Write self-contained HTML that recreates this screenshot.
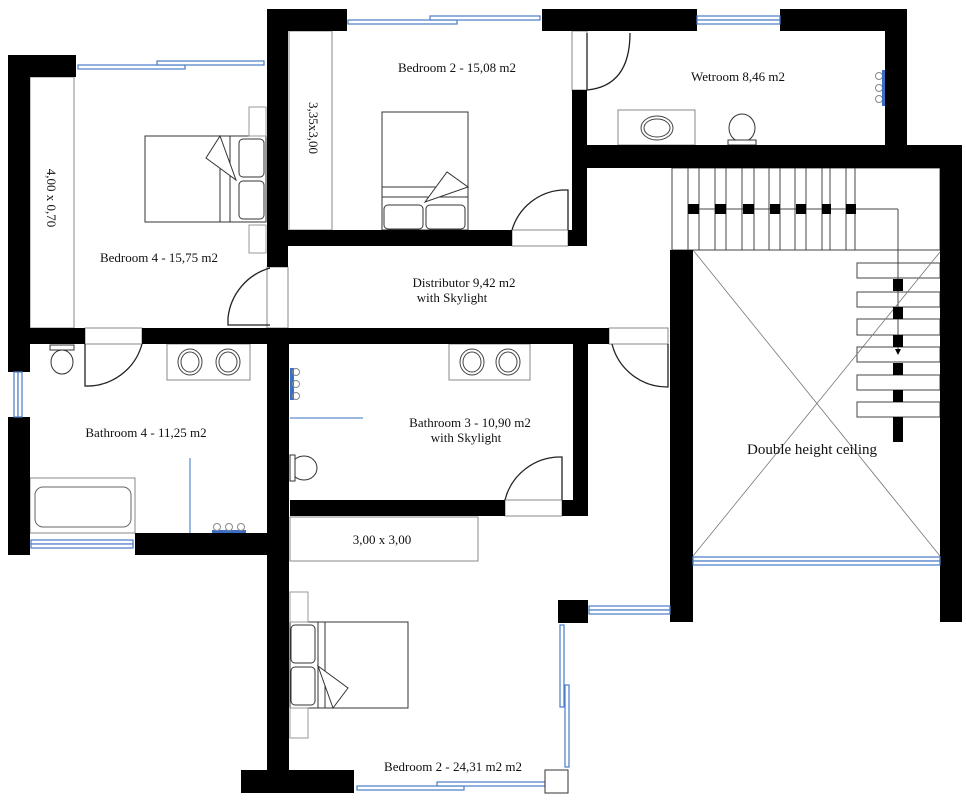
<!DOCTYPE html>
<html><head><meta charset="utf-8"><style>
html,body{margin:0;padding:0;background:#fff;}
svg{display:block;}
text{font-family:"Liberation Serif",serif;font-size:13px;fill:#111;}
</style></head><body>
<svg width="966" height="800" viewBox="0 0 966 800" xmlns="http://www.w3.org/2000/svg">
<g fill="none" stroke="#555" stroke-width="1">
  <rect x="30" y="77" width="44" height="251" stroke="#888"/>
  <rect x="289" y="31" width="43" height="199" stroke="#888"/>
  <rect x="290" y="517" width="188" height="44" stroke="#888"/>
  <rect x="145" y="136" width="121" height="86" stroke="#333"/>
  <rect x="239" y="139" width="25" height="38" rx="4" stroke="#333"/>
  <rect x="239" y="181" width="25" height="38" rx="4" stroke="#333"/>
  <line x1="220" y1="136" x2="220" y2="222" stroke="#333"/>
  <line x1="230" y1="136" x2="230" y2="222" stroke="#333"/>
  <path d="M220,136 L206,158 L236,180 Z" stroke="#333" fill="#fff"/>
  <rect x="249" y="107" width="17" height="29" stroke="#999"/>
  <rect x="249" y="225" width="17" height="28" stroke="#999"/>
  <rect x="382" y="112" width="86" height="118" stroke="#333"/>
  <rect x="384" y="205" width="39" height="24" rx="4" stroke="#333"/>
  <rect x="426" y="205" width="39" height="24" rx="4" stroke="#333"/>
  <line x1="382" y1="187" x2="468" y2="187" stroke="#333"/>
  <line x1="382" y1="197" x2="468" y2="197" stroke="#333"/>
  <path d="M425,202 L447,172 L468,187 Z" stroke="#333" fill="#fff"/>
  <rect x="290" y="622" width="118" height="86" stroke="#333"/>
  <rect x="291" y="625" width="24" height="38" rx="4" stroke="#333"/>
  <rect x="291" y="667" width="24" height="38" rx="4" stroke="#333"/>
  <line x1="318" y1="622" x2="318" y2="708" stroke="#333"/>
  <line x1="325" y1="622" x2="325" y2="708" stroke="#333"/>
  <path d="M318,666 L348,688 L333,708 Z" stroke="#333" fill="#fff"/>
  <rect x="290" y="592" width="18" height="30" stroke="#999"/>
  <rect x="290" y="708" width="18" height="30" stroke="#999"/>
  <rect x="618" y="110" width="77" height="35" stroke="#888"/>
  <ellipse cx="657" cy="128" rx="16" ry="12" stroke="#444"/>
  <ellipse cx="657" cy="128" rx="13" ry="9" stroke="#444"/>
  <ellipse cx="742" cy="128" rx="13" ry="14" stroke="#333"/>
  <rect x="728" y="140" width="28" height="5" stroke="#333" fill="#fff"/>
  <g stroke="#888"><circle cx="879" cy="76" r="3.5"/><circle cx="879" cy="88" r="3.5"/><circle cx="879" cy="99" r="3.5"/></g>
  <rect x="882" y="70" width="3" height="36" fill="#3a6fc4" stroke="none"/>
  <rect x="167" y="344" width="83" height="36" stroke="#888"/>
  <ellipse cx="190" cy="362" rx="12" ry="13" stroke="#444"/><ellipse cx="190" cy="362" rx="9" ry="10" stroke="#444"/>
  <ellipse cx="228" cy="362" rx="12" ry="13" stroke="#444"/><ellipse cx="228" cy="362" rx="9" ry="10" stroke="#444"/>
  <ellipse cx="62" cy="362" rx="11" ry="12" stroke="#333"/>
  <rect x="50" y="345" width="24" height="5" stroke="#333" fill="#fff"/>
  <rect x="30" y="478" width="105" height="55" stroke="#888"/>
  <rect x="35" y="487" width="96" height="40" rx="8" stroke="#666"/>
  <rect x="189" y="458" width="2" height="75" fill="#9bb8e0" stroke="none"/>
  <rect x="212" y="530" width="34" height="3" fill="#3a6fc4" stroke="none"/>
  <g stroke="#888"><circle cx="217" cy="527" r="3.5"/><circle cx="229" cy="527" r="3.5"/><circle cx="241" cy="527" r="3.5"/></g>
  <rect x="449" y="344" width="81" height="36" stroke="#888"/>
  <ellipse cx="472" cy="362" rx="12" ry="13" stroke="#444"/><ellipse cx="472" cy="362" rx="9" ry="10" stroke="#444"/>
  <ellipse cx="508" cy="362" rx="12" ry="13" stroke="#444"/><ellipse cx="508" cy="362" rx="9" ry="10" stroke="#444"/>
  <ellipse cx="304" cy="468" rx="13" ry="12" stroke="#333"/>
  <rect x="290" y="455" width="5" height="26" stroke="#333" fill="#fff"/>
  <rect x="290" y="368" width="4" height="32" fill="#3a6fc4" stroke="none"/>
  <g stroke="#888"><circle cx="296" cy="372" r="3.5"/><circle cx="296" cy="384" r="3.5"/><circle cx="296" cy="396" r="3.5"/></g>
  <rect x="290" y="417" width="73" height="2" fill="#9bb8e0" stroke="none"/>
  <g stroke="#888">
    <rect x="572" y="31" width="15" height="59"/>
    <rect x="512" y="230" width="56" height="16"/>
    <rect x="505" y="500" width="57" height="16"/>
    <rect x="609" y="328" width="59" height="16"/>
    <rect x="85" y="328" width="57" height="16"/>
    <rect x="267" y="267" width="21" height="61"/>
  </g>
  <g stroke="#222" stroke-width="1.3">
    <path d="M270,268 A58,58 0 0 0 228,318 L228,325 L270,325"/>
    <path d="M587,90 L587,33 M630,33 Q630,86 587,90"/>
    <path d="M512,230 A56,56 0 0 1 562,190 L568,190 L568,230"/>
    <path d="M85,344 L85,386 A57,57 0 0 0 142,344"/>
    <path d="M668,344 L668,387 A57,57 0 0 1 612,344"/>
    <path d="M505,500 A57,57 0 0 1 562,457 L562,500"/>
  </g>
  <g stroke="#444" fill="#fff">
    <rect x="672" y="168" width="183" height="82"/>
    <rect x="688" y="168" width="11" height="82"/>
    <rect x="715" y="168" width="11" height="82"/>
    <rect x="742" y="168" width="12" height="82"/>
    <rect x="769" y="168" width="11" height="82"/>
    <rect x="795" y="168" width="11" height="82"/>
    <rect x="822" y="168" width="8" height="82"/>
    <rect x="846" y="168" width="9" height="82"/>
    <rect x="855" y="168" width="85" height="82" fill="none"/>
    <rect x="857" y="263" width="83" height="15"/>
    <rect x="857" y="292" width="83" height="15"/>
    <rect x="857" y="319" width="83" height="16"/>
    <rect x="857" y="347" width="83" height="15"/>
    <rect x="857" y="375" width="83" height="15"/>
    <rect x="857" y="402" width="83" height="15"/>
  </g>
  <line x1="688" y1="209" x2="898" y2="209" stroke="#444"/>
  <line x1="898" y1="209" x2="898" y2="350" stroke="#444"/>
  <path d="M895,349 L901,349 L898,355 Z" fill="#000" stroke="none"/>
  <g stroke="#777" stroke-width="0.8">
    <line x1="693" y1="250" x2="940" y2="556"/>
    <line x1="940" y1="252" x2="693" y2="556"/>
  </g>
</g>
<g fill="#000">
  <rect x="688" y="204" width="11" height="10"/><rect x="715" y="204" width="11" height="10"/>
  <rect x="743" y="204" width="11" height="10"/><rect x="770" y="204" width="10" height="10"/>
  <rect x="796" y="204" width="10" height="10"/><rect x="822" y="204" width="9" height="10"/>
  <rect x="846" y="204" width="10" height="10"/>
  <rect x="893" y="279" width="10" height="12"/><rect x="893" y="307" width="10" height="12"/>
  <rect x="893" y="335" width="10" height="12"/><rect x="893" y="363" width="10" height="12"/>
  <rect x="893" y="390" width="10" height="12"/><rect x="893" y="417" width="10" height="25"/>
  <rect x="8" y="55" width="68" height="22"/>
  <rect x="8" y="55" width="22" height="317"/>
  <rect x="8" y="417" width="22" height="138"/>
  <rect x="8" y="328" width="77" height="16"/>
  <rect x="142" y="328" width="467" height="16"/>
  <rect x="267" y="9" width="80" height="22"/>
  <rect x="267" y="9" width="21" height="258"/>
  <rect x="267" y="328" width="22" height="465"/>
  <rect x="542" y="9" width="155" height="22"/>
  <rect x="780" y="9" width="127" height="22"/>
  <rect x="885" y="9" width="22" height="140"/>
  <rect x="572" y="90" width="15" height="156"/>
  <rect x="288" y="230" width="224" height="16"/>
  <rect x="568" y="230" width="19" height="16"/>
  <rect x="572" y="145" width="390" height="23"/>
  <rect x="940" y="145" width="22" height="477"/>
  <rect x="670" y="250" width="23" height="372"/>
  <rect x="573" y="344" width="15" height="172"/>
  <rect x="290" y="500" width="215" height="16"/>
  <rect x="562" y="500" width="26" height="16"/>
  <rect x="135" y="533" width="133" height="22"/>
  <rect x="558" y="600" width="30" height="23"/>
  <rect x="241" y="770" width="113" height="23"/>
</g>
<g fill="#fff" stroke="#4a7cc8" stroke-width="1.2">
  <rect x="78" y="65" width="107" height="4"/>
  <rect x="157" y="61" width="107" height="4"/>
  <rect x="348" y="20" width="109" height="4"/>
  <rect x="430" y="16" width="110" height="4"/>
  <rect x="697" y="16" width="83" height="4"/>
  <rect x="697" y="20" width="83" height="4"/>
  <rect x="14" y="372" width="4" height="45"/>
  <rect x="18" y="372" width="4" height="45"/>
  <rect x="31" y="540" width="102" height="4"/>
  <rect x="31" y="544" width="102" height="4"/>
  <rect x="693" y="557" width="247" height="4"/>
  <rect x="693" y="561" width="247" height="4"/>
  <rect x="589" y="606" width="81" height="4"/>
  <rect x="589" y="610" width="81" height="4"/>
  <rect x="560" y="625" width="4" height="82"/>
  <rect x="565" y="685" width="4" height="82"/>
  <rect x="357" y="786" width="107" height="4"/>
  <rect x="437" y="782" width="108" height="4"/>
</g>
<rect x="545" y="770" width="23" height="23" fill="#fff" stroke="#333"/>
<text x="457" y="72" text-anchor="middle">Bedroom 2 - 15,08 m2</text>
<text transform="translate(309,128) rotate(90)" text-anchor="middle">3,35x3,00</text>
<text transform="translate(47,198) rotate(90)" text-anchor="middle">4,00 x 0,70</text>
<text x="159" y="262" text-anchor="middle">Bedroom 4 - 15,75 m2</text>
<text x="738" y="81" text-anchor="middle">Wetroom 8,46 m2</text>
<text x="464" y="287" text-anchor="middle">Distributor 9,42 m2</text>
<text x="452" y="302" text-anchor="middle">with Skylight</text>
<text x="146" y="437" text-anchor="middle">Bathroom 4 - 11,25 m2</text>
<text x="470" y="427" text-anchor="middle">Bathroom 3 -  10,90 m2</text>
<text x="466" y="442" text-anchor="middle">with Skylight</text>
<text x="382" y="544" text-anchor="middle">3,00 x 3,00</text>
<text x="812" y="454" text-anchor="middle" style="font-size:15px">Double height ceiling</text>
<text x="453" y="771" text-anchor="middle">Bedroom 2 - 24,31 m2 m2</text>
</svg>
</body></html>
